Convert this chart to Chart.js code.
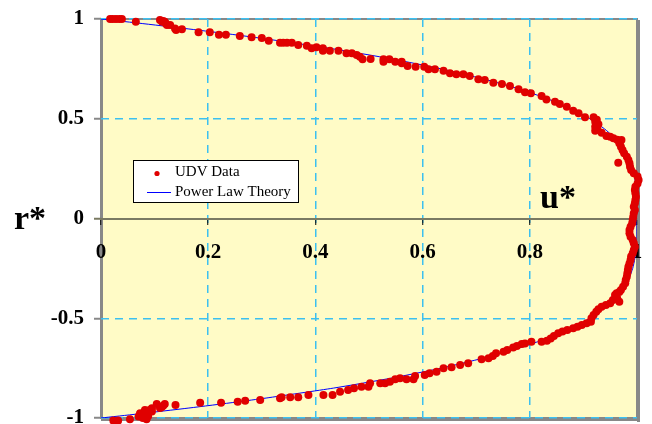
<!DOCTYPE html>
<html><head><meta charset="utf-8">
<script src="https://cdn.jsdelivr.net/npm/chart.js@4.4.1/dist/chart.umd.min.js"></script>
<style>html,body{margin:0;padding:0;background:#fff;}#wrap{width:652px;height:424px;position:relative;}</style>
</head><body><div id="wrap"><canvas id="c" width="652" height="424"></canvas></div>
<script>
// ---- data (u*, r*) ----
const seriesNames = ['UDV Data', 'Power Law Theory'];
const axisNames = ['u*', 'r*'];
const xTicks = [0, 0.2, 0.4, 0.6, 0.8, 1];
const xTickLabels = ['0', '0.2', '0.4', '0.6', '0.8', '1'];
const yTicks = [-1, -0.5, 0, 0.5, 1];
const yTickLabels = ['-1', '-0.5', '0', '0.5', '1'];

const udvUpper = [
  [0.017,1.0],[0.022,1.0],[0.028,1.0],[0.034,1.0],[0.039,1.0],[0.065,0.986],
  [0.110,0.995],[0.114,0.986],[0.116,0.99],[0.119,0.986],[0.121,0.978],[0.123,0.97],[0.129,0.97],
  [0.138,0.953],[0.14,0.945],[0.151,0.948],[0.182,0.933],[0.203,0.933],[0.220,0.921],[0.233,0.921],
  [0.259,0.915],[0.281,0.908],[0.300,0.905],[0.313,0.891],[0.334,0.881],[0.340,0.881],
  [0.347,0.881],[0.356,0.881],[0.368,0.870],[0.384,0.866],[0.393,0.853],[0.402,0.858],[0.414,0.853],
  [0.414,0.841],[0.427,0.841],[0.443,0.841],[0.458,0.828],[0.468,0.828],[0.477,0.820],[0.483,0.811],
  [0.488,0.798],[0.503,0.800],[0.527,0.798],[0.527,0.786],[0.538,0.798],[0.549,0.786],[0.561,0.786],
  [0.561,0.778],[0.572,0.764],[0.587,0.761],[0.603,0.761],[0.611,0.748],[0.623,0.748],[0.639,0.741],
  [0.651,0.728],[0.663,0.723],[0.676,0.723],[0.688,0.714],[0.704,0.698],[0.716,0.694],[0.732,0.681],
  [0.748,0.674],[0.763,0.664],[0.779,0.648],[0.791,0.633],[0.802,0.628],[0.822,0.614],[0.831,0.597],
  [0.847,0.585],[0.856,0.574],[0.869,0.560],[0.881,0.540],[0.891,0.527],[0.903,0.507],[0.919,0.507],
  [0.922,0.485],[0.925,0.495],[0.928,0.472],[0.922,0.460],[0.926,0.45],[0.922,0.440],[0.934,0.430],
  [0.943,0.413],[0.95,0.41],[0.956,0.402],[0.963,0.395],[0.968,0.385]
];
const udvCore = [
  [0.971,0.393],[0.967,0.377],[0.970,0.360],[0.973,0.343],[0.976,0.327],[0.981,0.310],[0.984,0.293],
  [0.965,0.280],[0.986,0.277],[0.987,0.260],[0.989,0.243],[0.994,0.227],[1.001,0.210],[1.003,0.193],
  [1.001,0.176],[0.997,0.159],[0.996,0.143],[0.997,0.126],[0.998,0.109],[0.997,0.093],[0.996,0.076],
  [0.994,0.059],[0.996,0.043],[0.994,0.026],[0.993,0.009],[0.992,-0.008],[0.991,-0.024],[0.988,-0.041],
  [0.986,-0.058],[0.986,-0.074],[0.988,-0.091],[0.992,-0.108],[0.994,-0.124],[0.996,-0.141],[0.994,-0.158],
  [0.992,-0.174],[0.989,-0.191],[0.988,-0.208],[0.986,-0.225],[0.984,-0.242],[0.983,-0.258],[0.982,-0.275],
  [0.981,-0.292],[0.979,-0.308],[0.978,-0.325],[0.974,-0.342],[0.970,-0.358],[0.967,-0.368],[0.962,-0.375]
];
const udvLower = [
  [0.959,-0.383],[0.963,-0.400],[0.967,-0.417],[0.955,-0.409],[0.950,-0.425],[0.942,-0.434],[0.934,-0.442],
  [0.928,-0.455],[0.924,-0.467],[0.919,-0.484],[0.915,-0.500],[0.914,-0.517],[0.906,-0.525],[0.897,-0.534],
  [0.889,-0.542],[0.881,-0.550],[0.870,-0.559],[0.861,-0.567],[0.853,-0.575],[0.845,-0.589],[0.839,-0.601],
  [0.832,-0.613],[0.822,-0.618],[0.803,-0.618],[0.791,-0.626],[0.785,-0.629],[0.776,-0.639],[0.769,-0.646],
  [0.758,-0.659],[0.751,-0.668],[0.737,-0.676],[0.731,-0.689],[0.723,-0.701],[0.710,-0.706],
  [0.685,-0.726],[0.670,-0.734],[0.654,-0.746],[0.639,-0.751],[0.626,-0.768],[0.613,-0.776],[0.604,-0.784],
  [0.586,-0.789],[0.583,-0.806],[0.570,-0.806],[0.558,-0.801],[0.549,-0.806],[0.539,-0.818],[0.530,-0.826],
  [0.521,-0.826],[0.502,-0.826],[0.499,-0.843],[0.486,-0.843],[0.472,-0.851],[0.461,-0.860],[0.446,-0.868],
  [0.432,-0.885],[0.415,-0.885],[0.387,-0.885],[0.368,-0.896],[0.353,-0.896],[0.337,-0.896],
  [0.334,-0.901],[0.297,-0.910],[0.269,-0.913],[0.255,-0.918],[0.224,-0.923],[0.185,-0.923],[0.139,-0.935],
  [0.119,-0.930],[0.104,-0.930],[0.116,-0.938],[0.113,-0.946],[0.110,-0.950],[0.095,-0.951],[0.091,-0.960],
  [0.095,-0.968],[0.082,-0.960],[0.082,-0.970],[0.073,-0.976],[0.073,-0.98],[0.070,-0.993],[0.088,-0.99],
  [0.078,-1.0],[0.085,-1.006],[0.054,-1.006],[0.032,-1.013],[0.023,-1.013]
];

const theoryR = [1, 0.98, 0.95, 0.92, 0.9, 0.85, 0.8, 0.75, 0.7, 0.65, 0.6, 0.55, 0.5, 0.45, 0.4, 0.35, 0.3, 0.25, 0.2, 0.1, 0,
  -0.1, -0.2, -0.25, -0.3, -0.35, -0.4, -0.45, -0.5, -0.55, -0.6, -0.65, -0.7, -0.75, -0.8, -0.85, -0.9, -0.92, -0.95, -0.98, -1];
const theoryU = [0, 0.068, 0.164, 0.253, 0.308, 0.434, 0.542, 0.635, 0.713, 0.779, 0.833, 0.877, 0.912, 0.939, 0.960, 0.975, 0.985, 0.992, 0.996, 1.0, 1.0,
  1.0, 0.996, 0.992, 0.985, 0.975, 0.960, 0.939, 0.912, 0.877, 0.833, 0.779, 0.713, 0.635, 0.542, 0.434, 0.308, 0.253, 0.164, 0.068, 0];

// ---- styles ----
const RED = '#E00000', BLUE = '#0000FF', GRID = '#3CC0F0', FRAME = '#888888', PLOT_BG = '#FFFBC6';
const SERIF = '"Liberation Serif", "DejaVu Serif", serif';

const udvPoints = udvUpper.concat(udvCore, udvLower).map(p => ({x: p[0], y: p[1]}));
const theoryPoints = theoryR.map((r, i) => ({x: theoryU[i], y: r}));

const decor = {
  id: 'decor',
  beforeDraw(chart) {
    const {ctx, chartArea: a} = chart;
    ctx.save();
    ctx.fillStyle = PLOT_BG;
    ctx.fillRect(a.left, a.top, a.right - a.left, a.bottom - a.top);
    ctx.strokeStyle = FRAME;
    ctx.lineWidth = 2;
    ctx.strokeRect(a.left, a.top, a.right - a.left, a.bottom - a.top);
    ctx.fillStyle = FRAME;
    ctx.fillRect(a.left - 1, a.top, 3, a.bottom - a.top);
    ctx.fillRect(a.right, a.top + 1, 3, a.bottom - a.top + 3);
    ctx.fillRect(a.left, a.bottom, a.right - a.left + 3, 3);
    ctx.restore();
  },
  afterDraw(chart) {
    const {ctx, chartArea: a} = chart;
    ctx.save();
    // legend box
    const lx = a.left + 32, ly = a.top + 141, lw = 165, lh = 42;
    ctx.fillStyle = '#FFFFFF';
    ctx.fillRect(lx, ly, lw, lh);
    ctx.strokeStyle = '#000';
    ctx.lineWidth = 1;
    ctx.strokeRect(lx + 0.5, ly + 0.5, lw, lh);
    const ds = chart.data.datasets;
    ctx.fillStyle = ds[0].backgroundColor;
    ctx.beginPath(); ctx.arc(lx + 24, ly + 13.5, 2.6, 0, Math.PI * 2); ctx.fill();
    ctx.strokeStyle = ds[1].borderColor;
    ctx.beginPath(); ctx.moveTo(lx + 14, ly + 32.5); ctx.lineTo(lx + 38, ly + 32.5); ctx.stroke();
    ctx.fillStyle = '#000';
    ctx.font = '15px ' + SERIF;
    ctx.textBaseline = 'middle';
    ctx.textAlign = 'left';
    ctx.fillText(ds[0].label, lx + 42, ly + 12.5);
    ctx.fillText(ds[1].label, lx + 42, ly + 32.5);
    // axis names
    ctx.font = 'bold 34px ' + SERIF;
    ctx.textBaseline = 'alphabetic';
    ctx.fillText(axisNames[0], 540, 208);
    ctx.fillText(axisNames[1], 14, 229);
    ctx.restore();
  }
};

const tickFont = {family: SERIF, size: 21, weight: 'bold'};

new Chart(document.getElementById('c'), {
  type: 'scatter',
  data: {
    datasets: [
      {label: seriesNames[0], data: udvPoints, backgroundColor: RED, borderColor: RED,
       pointRadius: 4, pointBorderWidth: 0, pointHoverRadius: 4, clip: false, order: 0},
      {label: seriesNames[1], data: theoryPoints, showLine: true, borderColor: BLUE, backgroundColor: BLUE,
       borderWidth: 1, pointRadius: 0, tension: 0.2, order: 1}
    ]
  },
  options: {
    responsive: false,
    devicePixelRatio: 1,
    animation: false,
    events: [],
    layout: {padding: {left: 0, top: 19, right: 15, bottom: 6}},
    plugins: {legend: {display: false}, tooltip: {enabled: false}, title: {display: false}},
    scales: {
      x: {
        type: 'linear', min: 0, max: 1, position: {y: 0},
        afterBuildTicks: s => { s.ticks = xTicks.map(v => ({value: v})); },
        afterFit: s => { s.paddingLeft = 0; s.paddingRight = 0; },
        grid: {
          color: c => (c.tick && (c.tick.value === 0 || c.tick.value === 1)) ? 'rgba(0,0,0,0)' : GRID,
          lineWidth: 1.5, drawTicks: true, tickLength: 5,
          tickColor: '#000', tickBorderDash: [], tickWidth: 1
        },
        border: {display: true, color: '#7A7A62', width: 2, dash: [8, 6]},
        ticks: {font: tickFont, color: '#000', padding: 16, maxRotation: 0, autoSkip: false,
                callback: (v, i) => xTickLabels[i]}
      },
      y: {
        type: 'linear', min: -1, max: 1, position: 'left',
        afterBuildTicks: s => { s.ticks = yTicks.map(v => ({value: v})); },
        afterFit: s => { s.width = 101; s.paddingTop = 0; s.paddingBottom = 0; },
        grid: {
          color: c => (c.tick && c.tick.value === 0) ? 'rgba(0,0,0,0)' : GRID,
          lineWidth: 1.5, drawTicks: true, tickLength: 7,
          tickColor: c => (c.tick && c.tick.value === 0) ? '#7A7A62' : FRAME,
          tickBorderDash: [], tickWidth: 2
        },
        border: {display: false, dash: [8, 6]},
        ticks: {font: tickFont, color: '#000', padding: 10, callback: (v, i) => yTickLabels[i]}
      }
    }
  },
  plugins: [decor]
});
</script>
</body></html>
